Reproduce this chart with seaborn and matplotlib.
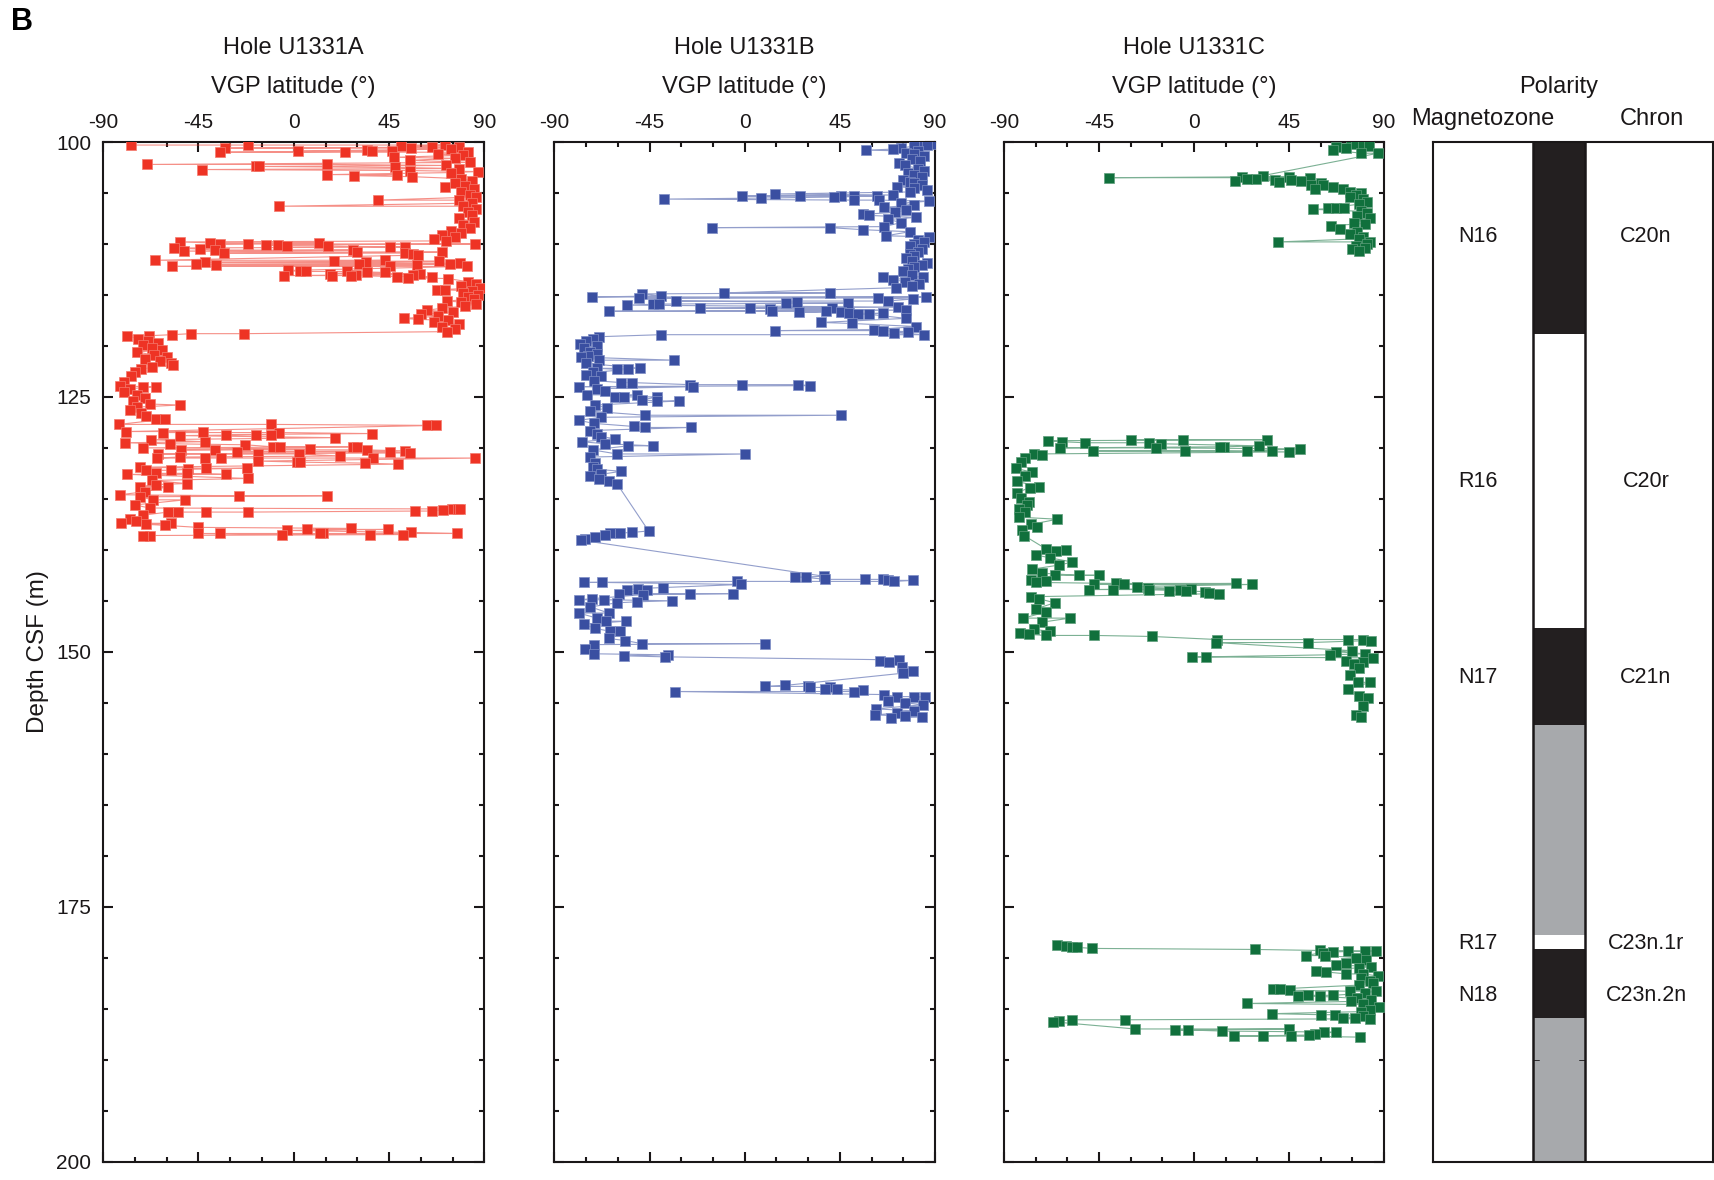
import numpy as np
import matplotlib
matplotlib.use("Agg")
import matplotlib.pyplot as plt
from matplotlib.ticker import MultipleLocator
import seaborn as sns

# ---------------- VGP latitude versus depth, Hole U1331A ----------------
depth_a = [
    100.3, 100.3, 100.3, 100.4, 100.5, 100.5, 100.6, 100.6, 100.7, 100.8,
    100.9, 100.9, 100.9, 101.0, 101.0, 101.0, 101.2, 101.3, 101.5, 101.6,
    101.8, 102.0, 102.2, 102.2, 102.3, 102.4, 102.4, 102.5, 102.6, 102.7,
    102.8, 102.9, 103.0, 103.2, 103.2, 103.3, 103.4, 103.6, 103.8, 104.0,
    104.3, 104.4, 104.6, 104.9, 105.2, 105.4, 105.7, 105.7, 106.0, 106.3,
    106.3, 106.6, 106.9, 107.2, 107.5, 107.8, 108.1, 108.4, 108.7, 108.9,
    109.1, 109.3, 109.5, 109.7,
    109.8, 109.9, 109.9, 110.0, 110.0, 110.0, 110.1, 110.1, 110.2, 110.2,
    110.3, 110.3, 110.4, 110.5, 110.6, 110.6, 110.7, 110.8, 110.8, 110.9,
    110.9, 111.0, 111.1, 111.6, 111.6, 111.7, 111.7, 111.8, 111.8, 111.9,
    112.0, 112.0, 112.0, 112.1, 112.1, 112.2, 112.2, 112.2, 112.6, 112.7,
    112.7, 112.7, 112.8, 112.8, 112.9, 112.9, 113.0, 113.0, 113.1, 113.1,
    113.1, 113.2, 113.2, 113.3, 113.4,
    113.7, 113.9, 114.1, 114.3, 114.5, 114.5, 114.6, 114.8, 115.0, 115.2,
    115.4, 115.6, 115.7, 115.9, 116.1, 116.3, 116.5, 116.7, 116.9, 117.1,
    117.3, 117.4, 117.5, 117.7, 117.9, 118.1, 118.3, 118.6, 118.8, 118.8,
    118.9, 119.0, 119.0,
    119.3, 119.5, 119.7, 119.9, 120.2, 120.4, 120.6, 120.9, 121.1, 121.3,
    121.5, 121.7, 121.9, 122.1, 122.3, 122.6, 123.0, 123.5, 123.9, 124.0,
    124.0, 124.2, 124.5, 124.8, 125.1, 125.4, 125.7, 125.8, 126.0, 126.3,
    126.6, 126.9, 127.2, 127.2, 127.7, 127.7, 127.8, 127.8,
    128.4, 128.4, 128.5, 128.5, 128.6, 128.7, 128.7, 128.7, 128.8, 129.0,
    129.2, 129.4, 129.5, 129.6, 129.7, 129.9, 129.9, 129.9, 129.9, 130.0,
    130.1, 130.2, 130.2, 130.2, 130.3, 130.4, 130.4, 130.5, 130.6, 130.6,
    130.6, 130.8, 130.9, 131.0, 131.0, 131.0, 131.0, 131.0, 131.3, 131.4,
    131.4, 131.5, 131.6, 131.9, 132.0, 132.0, 132.1, 132.2, 132.2, 132.5,
    132.5, 132.6, 132.6, 133.0, 133.2, 133.5, 133.6, 133.8, 133.8, 134.3,
    134.6, 134.7, 134.7, 134.8, 135.1, 135.1, 135.6, 135.9, 136.0, 136.0,
    136.0, 136.1, 136.2, 136.2, 136.3, 136.3, 136.3, 136.3, 136.6, 137.0,
    137.2, 137.4, 137.4, 137.5, 137.6, 137.8, 137.9, 138.0, 138.0, 138.1,
    138.3, 138.4, 138.4, 138.4, 138.4, 138.4, 138.5, 138.5, 138.5, 138.6,
    138.6,
]
vgp_a = [
    -76.6, -21.5, 71.4, 50.5, 65.1, 78, -32.5, 55.2, 74, 34.4,
    2.1, 36.8, 46.2, -34.9, 24.2, 82, 68, 80, 47.5, 76,
    55, 83, -69.1, 15.8, 72, -17.6, -16.3, 48, 78, -43.5,
    55, 86.7, 74, 15.5, 48.5, 28.4, 56, 79, 84, 76,
    81, 71.4, 85, 79, 83, 86, 39.6, 78, 84, -7.0,
    80, 86, 82, 84, 78, 85, 80, 83, 74, 79,
    70, 76, 66, 72,
    -53.5, -39.3, 11.9, -34.9, -21.5, 85.6, -13.3, -7.6, -3.4, 16.3,
    45.5, 52.5, -56.6, -44.3, -37.2, 28.1, -51.9, 29.7, 69.9, -32.8,
    52.5, 56.5, 58.8, -65.6, 43.1, 19.1, 68.3, -42.0, 33.9, 78.5,
    -46.2, 30.7, 73.8, -36.9, 58.0, -57.4, 45.5, 81.7, -2.9, 2.9,
    5.6, 25.0, 43.1, 34.4, 17.1, 59.6, 29.4, 56.5, -4.6, 17.9,
    26.9, 48.6, 65.1, 54.1, 73.0,
    82, 86, 79, 88, 67.5, 71.4, 84, 80, 87, 82,
    85, 72.2, 79, 86, 81, 70, 63, 75, 60, 68,
    51.8, 58.8, 73, 66, 78, 70, 76, 72.2, -23.4, -48.6,
    -57.4, -68.4, -78.5,
    -73.5, -69, -64, -71, -67, -62, -74, -66, -60, -70,
    -63, -58, -56.9, -67, -72, -75, -77, -80, -82.1, -71.1,
    -64.8, -77.4, -80, -74, -70, -76, -68, -53.8, -74, -77.4,
    -72, -69.5, -64.8, -60.9, -82.6, -10.5, 62.8, 67.2,
    -79.3, -42.8, -61.7, -7.0, 36.8, -32.2, -17.6, -10.9, -53.8, 19.4,
    -67.2, -42.0, -79.8, -58.5, -22.9, -9.7, -6.5, 28.1, 29.7, -71.1,
    7.6, -53.0, -37.2, 34.7, 52.5, -27.0, 45.5, 54.9, -64.0, -16.8,
    2.6, 21.8, -53.8, -64.5, -42.0, -34.1, 37.6, 85.6, -16.8, 1.4,
    2.9, 33.6, 49.4, -72.7, -41.2, -22.0, -49.8, -57.7, -69.5, -64.8,
    -50.6, -32.0, -78.5, -21.8, -67, -50.6, -64.8, -72.7, -59.3, -70,
    -82.1, -25.9, 15.5, -72.7, -66.4, -51.4, -75, -68, 74.6, 77.7,
    78.5, 70.3, 65.1, 57.3, -21.5, -41.6, -54.6, -59.3, -71, -77.4,
    -74.3, -81.3, -57.7, -69.5, -60.9, -45.4, 26.9, 6.1, 44.7, -3.4,
    55.4, 77.0, 14.0, 12.4, -34.9, -45.4, -5.7, 36.0, 51.4, -67.9,
    -71.1,
]

# ---------------- VGP latitude versus depth, Hole U1331B ----------------
depth_b = [
    100.0, 100.2, 100.3, 100.4, 100.6, 100.7, 100.8, 100.9, 101.1, 101.2,
    101.4, 101.7, 101.9, 102.1, 102.3, 102.6, 102.8, 103.0, 103.2, 103.4,
    103.7, 103.9, 104.0, 104.2, 104.4, 104.5, 104.7, 104.9,
    105.1, 105.2, 105.3, 105.3, 105.3, 105.3, 105.3, 105.4, 105.5, 105.6,
    105.7, 105.7, 105.8, 106.0, 106.2, 106.4, 106.7, 106.9, 107.1, 107.2,
    107.4, 107.6, 107.9, 108.3, 108.4, 108.4, 108.6, 108.8, 109.2, 109.3,
    109.6, 109.8, 110.0, 110.2, 110.5, 110.8, 111.0, 111.2, 111.4, 111.7,
    111.9, 112.1, 112.3, 112.5, 112.7, 113.0, 113.2, 113.2, 113.5, 113.7,
    113.9, 114.1, 114.3,
    114.8, 114.8, 114.9, 115.1, 115.2, 115.2, 115.3, 115.3, 115.4, 115.6,
    115.6, 115.7, 115.8, 115.8, 115.9, 115.9, 116.0, 116.2, 116.3, 116.3,
    116.3, 116.4, 116.5, 116.6, 116.6, 116.6, 116.7, 116.7, 116.8, 116.8,
    116.9, 116.9, 117.3, 117.7, 117.8, 118.1, 118.4, 118.5, 118.5, 118.6,
    118.7, 118.9, 118.9, 119.1,
    119.3, 119.5, 119.8, 120.0, 120.2, 120.6, 120.8, 121.0, 121.1, 121.4,
    121.4, 121.7, 122.2, 122.2, 122.3, 122.3, 122.6, 122.9, 123.0, 123.4,
    123.6, 123.6, 123.8, 123.8, 123.8, 123.9, 124.0, 124.0, 124.2, 124.4,
    124.8, 124.8, 125.0, 125.0, 125.0, 125.3, 125.4, 125.4, 125.8, 126.1,
    126.4, 126.8, 126.8, 127.0, 127.3, 127.6, 127.9, 128.0, 128.0, 128.3,
    128.6, 128.9, 129.1, 129.4, 129.6, 129.8, 129.8, 130.2, 130.6, 130.6,
    130.9, 131.5, 131.9, 132.1, 132.3, 132.6, 132.8, 133.1, 133.3, 133.5,
    138.15, 138.3, 138.35, 138.4, 138.5, 138.75, 138.95, 139.05, 142.6, 142.7,
    142.7, 142.9, 142.9, 142.9, 143.0, 143.0, 143.1, 143.1, 143.2, 143.2,
    143.4, 143.7, 143.8, 143.9, 143.9, 144.3, 144.3, 144.3, 144.4, 144.8,
    144.9, 144.9, 145.0, 145.1, 145.2, 145.6, 146.2, 146.2, 146.7, 147.0,
    147.0, 147.3, 147.7, 148.0, 148.0, 148.7, 148.9, 149.2, 149.2, 149.3,
    149.7, 150.2, 150.3, 150.4, 150.5, 150.8, 150.9, 151.0, 151.5, 151.9,
    152.1, 153.3, 153.4, 153.4, 153.5, 153.5, 153.7, 153.7, 153.8, 153.9,
    153.9, 154.2, 154.4, 154.4, 154.4, 154.8, 155.0, 155.2, 155.6, 155.8,
    156.0, 156.2, 156.3, 156.4, 156.5,
]
vgp_b = [
    84.0, 88.8, 86, 80, 74, 69.9, 57.4, 82, 76.2, 80,
    85, 79, 83, 73, 76, 82, 85, 77, 80, 84,
    75, 78, 80, 84, 72, 80, 86, 78,
    14.2, 70.0, -1.2, 26.3, 45.6, 51.9, 62.4, 42.0, 7.9, -38.0,
    51.9, 63.6, 87.2, 74, 80, 66, 76.2, 71, 55.8, 58.9,
    80.9, 68, 74, 66, -15.7, 40.4, 55.8, 78, 66.8, 87.2,
    82, 85, 80, 78, 84, 82, 78, 80, 76.2, 79,
    86.4, 84, 80, 77, 75, 79, 65.2, 84.1, 70, 76,
    82.5, 79, 71.5,
    -9.9, 40.1, -48.7, -39.7, -72.2, 85.6, -49.8, 62.9, 79.4, 67.6,
    -32.7, 24.7, 19.7, 48.7, -43.2, -40.8, -55.8, 72.3, -21.2, 2.4,
    41.3, 11.8, 76.2, -64.4, 13.1, 38.5, 25.9, 45.3, 49.5, 65.2,
    53.4, 58.9, 76.2, 36.2, 50.8, 80.9, 61.3, 14.5, 65.2, 77.0,
    70.7, 84.9, -39.7, -69.1,
    -72, -75, -78, -70, -76.2, -73.0, -70, -74, -77.7, -33.3,
    -69.1, -75, -49.5, -69.9, -60.5, -55.0, -72, -75, -68, -71.5,
    -58.4, -53.4, -25.9, -1.5, 25.2, 31.0, -78.5, -24.3, -70, -66,
    -74.6, -51.0, -61.3, -57.3, -41.3, -48.7, -41.6, -31.1, -70.7, -65.2,
    -73, -47.4, 45.3, -68, -78.5, -71.5, -52.6, -47.4, -25.4, -73,
    -70, -68, -61.3, -77, -66, -43.2, -55.0, -72, -60.5, 0.0,
    -73, -71, -72, -70, -58.6, -68, -73, -69, -64, -60.5,
    -45.5, -53.4, -58.9, -63.6, -66.0, -70.7, -75.4, -77.7, 37.7, 23.9,
    29.1, 38.0, 56.9, 65.2, 68.0, 79.7, 70.7, -3.9, -76.2, -67.5,
    -2.0, -38.8, -50.3, -55.8, -46.3, -59.7, -25.9, -5.5, -48.2, -72.2,
    -78.5, -66.7, -34.5, -51.0, -60.5, -73, -64.4, -78.5, -70, -65.5,
    -56.2, -76.2, -71, -63.6, -59, -64.4, -56.6, -48.7, 9.8, -71.5,
    -75.4, -71.5, -36.1, -57.3, -37.7, 73.1, 64.0, 68.4, 74.6, 79.4,
    75, 19.2, 9.8, 29.9, 31.0, 40.1, 38.0, 43.7, 55.8, 51.9,
    -33, 66.0, 72, 80, 85.2, 68, 76, 84.1, 62, 80,
    72, 61.8, 76, 84, 69.1,
]

# ---------------- VGP latitude versus depth, Hole U1331C ----------------
depth_c = [
    100.0, 100.1, 100.2, 100.3, 100.4, 100.5, 100.6, 100.8, 101.1, 101.1,
    103.3, 103.4, 103.4, 103.5, 103.5, 103.6, 103.6, 103.7, 103.7, 103.8,
    103.8, 103.9, 104.0, 104.2, 104.2, 104.4, 104.6, 104.6, 104.9, 105.0,
    105.2, 105.4, 105.6, 105.9, 106.1, 106.5, 106.5, 106.5, 106.6, 106.8,
    107.0, 107.3, 107.5, 107.9, 108.0, 108.2, 108.5, 108.8, 109.0, 109.3,
    109.5, 109.8, 109.8, 110.0, 110.2, 110.4, 110.5, 110.7,
    129.2, 129.2, 129.2, 129.3, 129.4, 129.5, 129.5, 129.6, 129.8, 129.9,
    129.9, 130.0, 130.0, 130.1, 130.3, 130.3, 130.3, 130.3, 130.4, 130.6,
    130.7, 131.0, 131.4, 132.0, 132.4, 132.8, 133.3, 133.8, 133.9, 134.4,
    134.9, 135.3, 135.6, 136.0, 136.3, 136.8, 137.0, 137.5, 137.8, 138.1,
    138.6, 139.9, 140.0, 140.1, 140.5, 140.8, 141.2, 141.5, 141.9, 142.3,
    142.5, 142.5, 142.5, 143.0, 143.1, 143.2, 143.3, 143.3, 143.4, 143.4,
    143.4, 143.6, 143.7, 143.8, 143.9, 143.9, 143.9, 143.9, 144.0, 144.0,
    144.1, 144.2, 144.3, 144.6, 144.8, 145.2, 145.8, 146.1, 146.7, 146.7,
    147.1, 147.8, 148.0, 148.2, 148.3, 148.4, 148.4, 148.5, 148.8, 148.8,
    148.8, 148.9, 149.1, 149.1, 149.9, 150.0, 150.2, 150.3, 150.5, 150.5,
    150.6, 150.9, 151.0, 151.2, 151.6, 152.3, 153.0, 153.0, 153.7, 154.3,
    154.5, 155.3, 156.2, 156.4,
    178.8, 178.9, 179.0, 179.0, 179.1, 179.2, 179.3, 179.35, 179.4, 179.4,
    179.45, 179.5, 179.8, 179.8, 180.0, 180.2, 180.5, 180.7, 180.9, 181.0,
    181.3, 181.4, 181.6, 181.6, 181.8, 182.0, 182.3, 182.5, 182.7, 183.1,
    183.1, 183.2, 183.3, 183.3, 183.5, 183.7, 183.7, 183.8, 183.8, 184.0,
    184.2, 184.3, 184.5, 184.6, 184.8, 185.1, 185.3, 185.5, 185.6, 185.6,
    185.7, 185.9, 185.9, 186.0, 186.1, 186.1, 186.2, 186.3, 187.0, 187.0,
    187.1, 187.1, 187.2, 187.3, 187.3, 187.5, 187.6, 187.7, 187.7, 187.7,
    187.8,
]
vgp_c = [
    78, 74.5, 76.9, 80, 83, 67.4, 72, 65.8, 79.3, 87.2,
    32.6, 22.6, 44.9, -40.2, 55.1, 29.4, 25, 38.5, 46.0, 19.5,
    50.8, 40.2, 60, 55.6, 61.1, 65.8, 57.1, 70.6, 73.7, 79,
    76.9, 74, 80.1, 82, 78, 63.5, 67.4, 70.9, 56.3, 79,
    82, 77, 83.2, 76, 81, 65.0, 69.0, 77, 73.7, 80.1,
    78, 40.0, 83.2, 82, 76.9, 80.9, 75, 78,
    -29.9, -5.0, 34.7, -69.0, -62.3, -51.6, -21.5, -15.6, 30.6, 14.4,
    12.5, -63.6, -18.0, 50.0, 25.0, 36.9, -47.8, -4.1, 44.8, -76,
    -71.8, -80, -82.1, -84.5, -76.6, -80, -83.7, -73.4, -77.7, -84,
    -82, -78, -79, -83, -80, -82.9, -64.7, -77, -74.2, -81.3,
    -80.5, -70.2, -60.7, -65.5, -75, -68, -57.6, -64, -76.6, -72,
    -54.4, -44.9, -66, -77.3, -70, -75.0, -37.0, 19.9, -47.3, -33.0,
    27.5, -27.0, -21.7, -1.4, -49.7, -38.6, -6.5, -21.2, -3.8, -12.0,
    5.4, 7.3, 11.7, -77.3, -73.4, -66.0, -75, -70, -80.8, -58.7,
    -72, -76, -68, -82.2, -78.1, -70.2, -47.3, -20.1, 10.9, 72.9,
    80.1, 84.0, 53.9, 10.4, 75, 67.4, 80.9, 64.2, 5.7, -1.1,
    84.8, 72, 80, 76, 78, 74, 77.7, 83.2, 72.9, 78,
    82.5, 80, 76.9, 79,
    -65.0, -60.7, -57.6, -55.2, -48.1, 28.7, 59.5, 86.4, 80.9, 72.9,
    65.8, 61.1, 52.9, 62, 76.9, 81.7, 72.1, 67.4, 84, 78,
    57.9, 62.3, 72.1, 80.1, 87.2, 79, 83.2, 85, 78, 37.4,
    40.5, 45.3, 73.7, 86.4, 81, 65.8, 53.9, 49.2, 59.5, 77,
    84, 74.5, 25.0, 80.1, 87.7, 83.2, 79, 37.0, 60.0, 66.6,
    80, 70.8, 76.4, 83.2, -32.7, -57.6, -63.9, -66.6, -28.0, 44.8,
    -8.8, -3.0, 13.1, 61.5, 67.4, 57.1, 54.4, 19.1, 32.6, 45.8,
    78.8,
]

holes = ["Hole U1331A", "Hole U1331B", "Hole U1331C"]
hole_colors = ["#EE3324", "#3A4FA1", "#10703C"]
hole_edges = ["#F47A6E", "#7F8FC6", "#5E9E7B"]

# ---------------- Polarity column ----------------
polarity_top = [100.0, 118.8, 147.7, 157.2, 177.8, 179.2, 185.9]
polarity_base = [118.8, 147.7, 157.2, 177.8, 179.2, 185.9, 200.0]
polarity_fill = ["#231F20", "#FFFFFF", "#231F20", "#A7A9AC", "#FFFFFF", "#231F20", "#A7A9AC"]
magnetozones = ["N16", "R16", "N17", "R17", "N18"]
chrons = ["C20n", "C20r", "C21n", "C23n.1r", "C23n.2n"]
label_depths = [109.3, 133.3, 152.5, 178.6, 183.7]

sns.set_style("white")
plt.rcParams["font.family"] = ["Liberation Sans", "DejaVu Sans"]
plt.rcParams["axes.unicode_minus"] = False
ink = "#1A1718"

W, H = 1715, 1180
fig = plt.figure(figsize=(W / 100, H / 100), dpi=100)

top_px, bot_px = 142, 1161.5
ax_bottom = 1 - bot_px / H
ax_height = (bot_px - top_px) / H
panel_px = [(103, 484.5), (554.5, 935), (1004, 1384), (1433, 1713)]
axes = [fig.add_axes([l / W, ax_bottom, (r - l) / W, ax_height]) for l, r in panel_px]

data = [(depth_a, vgp_a), (depth_b, vgp_b), (depth_c, vgp_c)]
for i, (ax, (dep, lat)) in enumerate(zip(axes[:3], data)):
    dep = np.asarray(dep, dtype=float)
    lat = np.asarray(lat, dtype=float)
    order = np.argsort(dep, kind="stable")
    dep, lat = dep[order], lat[order]
    # unrecovered intervals (> 10 m without data) break the connecting line
    run = np.concatenate([[0], np.cumsum(np.diff(dep) > 10)])
    sns.lineplot(x=lat, y=dep, units=run, sort=False, estimator=None,
                 color=hole_colors[i], lw=0.8, alpha=0.55, ax=ax, zorder=2)
    sns.scatterplot(x=lat, y=dep, marker="s", s=46, color=hole_colors[i],
                    edgecolor=hole_edges[i], linewidth=0.5, ax=ax, zorder=3)
    ax.set_xlim(-90, 90)
    ax.set_ylim(200, 100)
    ax.set_xticks([-90, -45, 0, 45, 90])
    ax.xaxis.set_minor_locator(MultipleLocator(15))
    ax.set_yticks([100, 125, 150, 175, 200])
    ax.yaxis.set_minor_locator(MultipleLocator(5))
    ax.tick_params(which="both", direction="in", top=True, bottom=True, left=True, right=True,
                   labeltop=True, labelbottom=False, labelleft=(i == 0), labelright=False,
                   width=1.5, color=ink)
    ax.tick_params(axis="x", which="major", length=7.5, labelsize=15, pad=7.2, labelcolor=ink)
    ax.tick_params(axis="y", which="major", length=7.5, labelsize=15, pad=8.5, labelcolor=ink)
    ax.tick_params(which="minor", length=3.8)
    for sp in ax.spines.values():
        sp.set_linewidth(1.5)
        sp.set_color(ink)
    ax.set_xlabel("")
    ax.set_ylabel("")
    ax.text(0.5, 1.092, holes[i], transform=ax.transAxes, ha="center", va="center",
            fontsize=17, color=ink)
    ax.text(0.5, 1.0535, "VGP latitude (°)", transform=ax.transAxes, ha="center",
            va="center", fontsize=17, color=ink)

axes[0].set_ylabel("Depth CSF (m)", fontsize=17.5, color=ink, labelpad=5)

# Polarity column with magnetozone and chron names
pax = axes[3]
pax.set_xlim(0, 1)
pax.set_ylim(200, 100)
col_l, col_r = (1533 - 1433) / 280, (1585 - 1433) / 280
col_c, col_w = (col_l + col_r) / 2, col_r - col_l
for t, b, c in zip(polarity_top, polarity_base, polarity_fill):
    pax.bar(col_c, b - t, bottom=t, width=col_w, color=c, edgecolor="none", zorder=2)
for xe in (col_l, col_r):
    pax.plot([xe, xe], [100, 200], color=ink, lw=1.8, zorder=3)
pax.plot([col_l, col_l + 0.02], [190, 190], color=ink, lw=0.6, zorder=3)
pax.plot([col_r - 0.02, col_r], [190, 190], color=ink, lw=0.6, zorder=3)
pax.set_xticks([])
pax.set_yticks([])
for sp in pax.spines.values():
    sp.set_linewidth(1.5)
    sp.set_color(ink)
for name, chron, d in zip(magnetozones, chrons, label_depths):
    pax.text((1478 - 1433) / 280, d, name, ha="center", va="center", fontsize=15.5, color=ink)
    pax.text((1646 - 1433) / 280, d, chron, ha="center", va="center", fontsize=15.5, color=ink)
pax.text(col_c, 1.0535, "Polarity", transform=pax.transAxes, ha="center", va="center",
         fontsize=17, color=ink)
pax.text((1483 - 1433) / 280, 1.0222, "Magnetozone", transform=pax.transAxes, ha="center",
         va="center", fontsize=17, color=ink)
pax.text((1652 - 1433) / 280, 1.0222, "Chron", transform=pax.transAxes, ha="center",
         va="center", fontsize=17, color=ink)

fig.text(22 / W, 1 - 22 / H, "B", ha="center", va="center", fontsize=22,
         fontweight="bold", color="black")

fig.savefig("out.png", dpi=100, facecolor="white")
